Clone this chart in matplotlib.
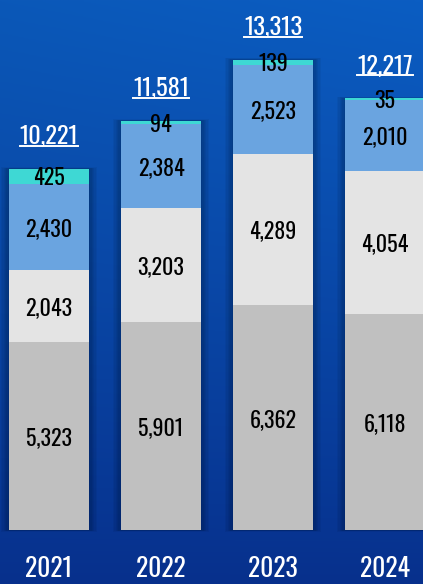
import matplotlib.pyplot as plt
import numpy as np
from matplotlib.patches import Rectangle
from matplotlib.textpath import TextPath
from matplotlib.font_manager import FontProperties
from matplotlib.transforms import offset_copy
from matplotlib.lines import Line2D

years = ["2021", "2022", "2023", "2024"]
seg_bottom = [5323, 5901, 6362, 6118]
seg_light = [2043, 3203, 4289, 4054]
seg_blue = [2430, 2384, 2523, 2010]
seg_cyan = [425, 94, 139, 35]
totals = [10221, 11581, 13313, 12217]

colors = ["#c0c0c0", "#e4e4e4", "#6aa4e0", "#3ed8d4"]
FAM = ["Oswald", "Barlow Condensed", "DejaVu Sans"]

fig = plt.figure(figsize=(4.23, 5.84), dpi=100)

# fondo degradado
bg = fig.add_axes([0, 0, 1, 1])
grad = np.linspace(0, 1, 256).reshape(-1, 1)
gx = np.linspace(0, 1, 256).reshape(1, -1)
top = np.array([0x0b, 0x58, 0xb8]) / 255
bot = np.array([0x07, 0x30, 0x8c]) / 255
img = bot + (top - bot) * grad[..., None] ** 0.9
img = img + (gx[..., None] * np.array([0.0, 0.02, 0.04])) * grad[..., None]
bg.imshow(np.clip(img, 0, 1), aspect="auto", origin="lower", extent=[0, 1, 0, 1])
bg.axis("off")

ax = fig.add_axes([0, 0, 1, 1])
ax.patch.set_alpha(0)
ax.set_xlim(-0.4375, 3.339)
ax.set_ylim(-1529, 15005)
ax.axis("off")

x = np.arange(len(years))
w = 0.714


def alto_cifras(weight):
    fp = FontProperties(family=FAM, weight=weight)
    e = TextPath((0, 0), "0123456789", size=1, prop=fp).get_extents()
    return e.y1


# texto con altura de cifra fija en px, centrado verticalmente en (xd, yd)+dy
def lab(xd, yd, s, cap, color, weight="normal", dy=0.0):
    r = alto_cifras(weight)
    size = cap / r * 72 / 100
    tr = offset_copy(ax.transData, fig=fig, x=0, y=dy - cap / 2, units="dots")
    return ax.text(xd, yd, s, transform=tr, ha="center", va="baseline", fontsize=size,
                   family=FAM, weight=weight, color=color, zorder=5)


# sombra
for k in range(6):
    pad = 0.012 * (k + 1)
    for xi, t in zip(x, totals):
        ax.add_patch(Rectangle((xi - w / 2 - pad, -pad * 600), w + 2 * pad, t + pad * 1200,
                               color="black", alpha=0.045, lw=0, zorder=1))

bottoms = np.zeros(len(years))
for vals, c in zip([seg_bottom, seg_light, seg_blue, seg_cyan], colors):
    ax.bar(x, vals, w, bottom=bottoms, color=c, zorder=2, edgecolor="none")
    for xi, b, v in zip(x, bottoms, vals):
        lab(xi, b + v / 2, f"{v:,}", 18, "black", weight=600)
    bottoms = bottoms + np.array(vals)

for xi, y in zip(x, years):
    lab(xi, 0, y, 21, "white", dy=-36.5)

tots = [lab(xi, t, f"{t:,}", 20, "white", dy=35) for xi, t in zip(x, totals)]

fig.canvas.draw()
rend = fig.canvas.get_renderer()
for tt in tots:
    bb = tt.get_window_extent(rend)
    _, yb = tt.get_transform().transform(tt.get_position())
    fig.add_artist(Line2D([bb.x0, bb.x1], [yb - 2, yb - 2], color="white", lw=1.4,
                          transform=None))

fig.savefig("out.png", dpi=100)
